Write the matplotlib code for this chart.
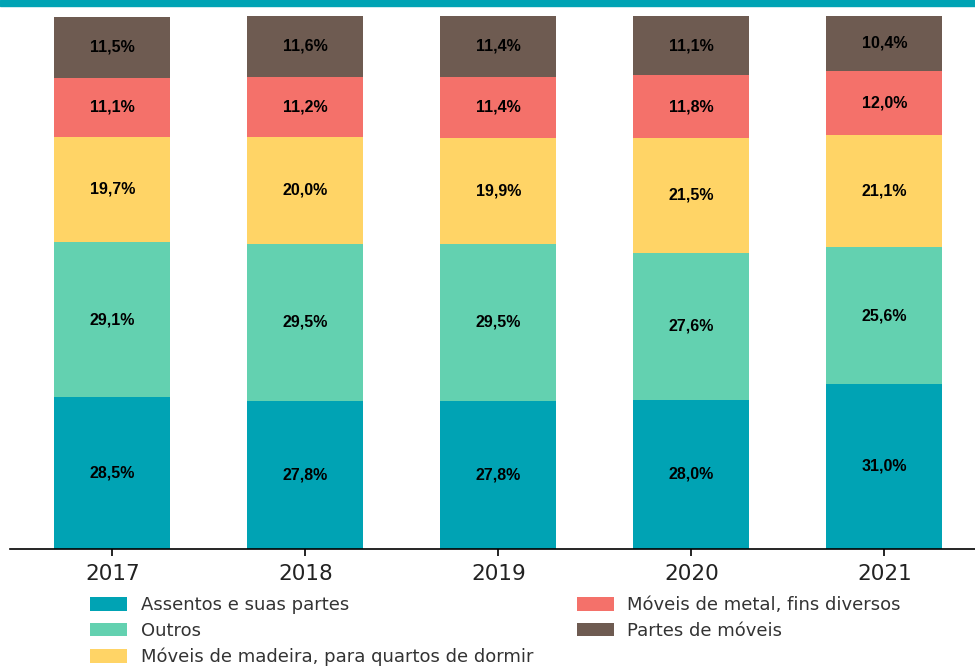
import numpy as np
import matplotlib.pyplot as plt
from matplotlib.patches import Rectangle

anos = ["2017", "2018", "2019", "2020", "2021"]
categorias = [
    "Assentos e suas partes",
    "Outros",
    "Móveis de madeira, para quartos de dormir",
    "Móveis de metal, fins diversos",
    "Partes de móveis",
]
assentos = [28.5, 27.8, 27.8, 28.0, 31.0]
outros = [29.1, 29.5, 29.5, 27.6, 25.6]
madeira = [19.7, 20.0, 19.9, 21.5, 21.1]
metal = [11.1, 11.2, 11.4, 11.8, 12.0]
partes = [11.5, 11.6, 11.4, 11.1, 10.4]
cores = ["#00A3B4", "#63D1B0", "#FFD466", "#F4716A", "#6E5B51"]

series = [assentos, outros, madeira, metal, partes]

fig = plt.figure(figsize=(9.75, 6.66), dpi=100)
ax = fig.add_axes([10 / 975, 1 - 549 / 666, 1 - 10 / 975, 533 / 666])

# faixa de destaque no topo
fig.patches.append(Rectangle((0, 1 - 6 / 666), 1, 6 / 666, transform=fig.transFigure,
                             color="#00A3B4", zorder=5))

x = np.arange(len(anos))
base = np.zeros(len(anos))
for nome, vals, cor in zip(categorias, series, cores):
    vals = np.array(vals)
    ax.bar(x, vals, 0.6, bottom=base, color=cor, label=nome)
    for xi, b, v in zip(x, base, vals):
        ax.text(xi, b + v / 2, f"{v:.1f}%".replace(".", ","), ha="center", va="center",
                fontsize=11.5, fontweight="bold", family=["Liberation Sans", "DejaVu Sans"],
                color="black")
    base += vals

ax.set_xlim(-0.53, 4.47)
ax.set_ylim(0, 100)
ax.set_xticks(x)
ax.set_xticklabels(anos, fontsize=15.5, color="#222222")
ax.tick_params(axis="x", length=5, width=1.2, pad=6)
ax.set_yticks([])
for s in ["top", "right", "left"]:
    ax.spines[s].set_visible(False)
ax.spines["bottom"].set_linewidth(1.2)

fig.legend(loc="upper left", bbox_to_anchor=(74 / 975, 1 - 580 / 666), ncol=2,
           frameon=False, fontsize=13, handlelength=2.05, handleheight=0.75,
           columnspacing=2.4, labelspacing=0.43, handletextpad=0.75,
           labelcolor="#333333")

fig.savefig("out.png", dpi=100)
